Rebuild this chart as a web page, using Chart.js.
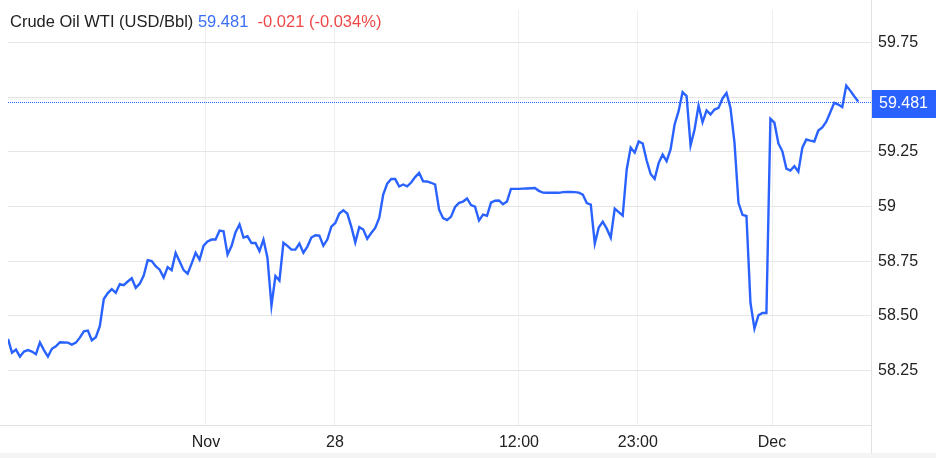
<!DOCTYPE html>
<html><head><meta charset="utf-8">
<script src="https://cdn.jsdelivr.net/npm/chart.js@4"></script>
<style>
html,body{margin:0;padding:0;background:#fff;}
#wrap{position:relative;width:936px;height:458px;overflow:hidden;}
#title{position:absolute;left:10px;top:12px;font:16.5px "Liberation Sans",Arial,sans-serif;color:#222;white-space:pre;z-index:2;}
#title .p{color:#3b6ef5;}
#title .c{color:#f04848;}
#strip{position:absolute;left:0;right:0;bottom:0;height:5px;background:#f4f4f4;}
</style></head><body>
<div id="wrap">
<canvas id="c" width="936" height="458"></canvas>
<div id="title">Crude Oil WTI (USD/Bbl) <span class="p">59.481</span>  <span class="c">-0.021 (-0.034%)</span></div>
<div id="strip"></div>
</div>
<script>
const prices = [
58.394,58.331,58.345,58.313,58.336,58.343,58.336,58.324,58.378,58.343,
58.313,58.349,58.360,58.379,58.378,58.377,58.368,58.377,58.400,58.429,
58.432,58.388,58.402,58.452,58.577,58.604,58.622,58.605,58.645,58.640,
58.657,58.672,58.628,58.647,58.684,58.755,58.751,58.727,58.711,58.675,
58.723,58.709,58.788,58.749,58.709,58.693,58.739,58.788,58.757,58.821,
58.840,58.849,58.849,58.890,58.887,58.780,58.819,58.883,58.918,58.858,
58.864,58.833,58.833,58.796,58.849,58.766,58.546,58.682,58.661,58.834,
58.820,58.803,58.803,58.831,58.789,58.817,58.858,58.869,58.867,58.821,
58.849,58.908,58.925,58.968,58.983,58.968,58.908,58.836,58.906,58.895,
58.853,58.879,58.902,58.948,59.055,59.105,59.126,59.126,59.092,59.101,
59.093,59.110,59.135,59.154,59.116,59.115,59.109,59.101,58.986,58.947,
58.938,58.954,58.998,59.017,59.023,59.037,59.007,59.000,58.936,58.963,
58.958,59.018,59.027,59.028,59.011,59.023,59.081,59.081,59.081,59.082,
59.083,59.084,59.085,59.072,59.064,59.063,59.063,59.063,59.063,59.066,
59.067,59.067,59.066,59.064,59.055,59.016,59.009,58.831,58.904,58.931,
58.899,58.858,58.991,58.975,58.959,59.170,59.270,59.247,59.298,59.289,
59.211,59.149,59.127,59.199,59.238,59.208,59.263,59.376,59.437,59.524,
59.506,59.280,59.353,59.463,59.386,59.440,59.422,59.444,59.452,59.495,
59.520,59.451,59.293,59.017,58.962,58.957,58.560,58.441,58.502,58.513,
58.513,59.402,59.384,59.289,59.253,59.174,59.165,59.185,59.160,59.270,
59.307,59.302,59.298,59.348,59.362,59.389,59.432,59.475,59.467,59.456,
59.554,59.531,59.505,59.481
];
const tickPositions = [49.6, 81.9, 128.0, 157.8, 191.4];
const tickLabels = ['Nov', '28', '12:00', '23:00', 'Dec'];
const yTicks = [58, 58.25, 58.5, 58.75, 59, 59.25, 59.5, 59.75];
const lastPrice = 59.481;

const FONT = '"Liberation Sans", Arial, sans-serif';
const BLUE = '#2962ff';

const overlay = {
  id: 'overlay',
  beforeDatasetsDraw(chart) {
    const {ctx, chartArea: a, scales: {y}} = chart;
    const py = Math.round(y.getPixelForValue(lastPrice)) + 0.5;
    ctx.save();
    ctx.strokeStyle = BLUE;
    ctx.lineWidth = 1;
    ctx.setLineDash([1, 1]);
    ctx.beginPath();
    ctx.moveTo(a.left, py);
    ctx.lineTo(a.right, py);
    ctx.stroke();
    ctx.restore();
  },
  afterDraw(chart) {
    const {ctx, chartArea: a, scales: {y}, width, height} = chart;
    ctx.save();
    ctx.strokeStyle = '#e2e2e2';
    ctx.lineWidth = 1;
    ctx.beginPath();
    ctx.moveTo(Math.round(a.right) + 0.5, 0);
    ctx.lineTo(Math.round(a.right) + 0.5, height);
    ctx.moveTo(0, Math.round(a.bottom) + 0.5);
    ctx.lineTo(a.right, Math.round(a.bottom) + 0.5);
    ctx.stroke();
    const py = y.getPixelForValue(lastPrice);
    ctx.fillStyle = BLUE;
    ctx.fillRect(Math.round(a.right) + 1, Math.round(py) - 12, width - a.right, 28);
    ctx.fillStyle = '#ffffff';
    ctx.font = '16px ' + FONT;
    ctx.textBaseline = 'middle';
    ctx.textAlign = 'left';
    ctx.fillText(lastPrice.toFixed(3), a.right + 8, Math.round(py) + 2);
    ctx.restore();
  }
};

new Chart(document.getElementById('c'), {
  type: 'line',
  data: {
    datasets: [{
      data: prices.map((p, i) => ({x: i, y: p})),
      borderColor: BLUE,
      borderWidth: 2.4,
      pointRadius: 0,
      tension: 0,
      fill: false
    }]
  },
  options: {
    responsive: false,
    animation: false,
    layout: {padding: {left: 8, top: 10, right: 0, bottom: 0}},
    plugins: {legend: {display: false}, tooltip: {enabled: false}},
    scales: {
      x: {
        type: 'linear',
        min: 0,
        max: 216.2,
        afterFit(s) { s.height = 33; s.paddingLeft = 0; s.paddingRight = 0; },
        afterBuildTicks(s) { s.ticks = tickPositions.map(v => ({value: v})); },
        grid: {color: '#efefef', drawTicks: false},
        border: {display: false},
        ticks: {
          padding: 8,
          color: '#222',
          font: {family: FONT, size: 16},
          maxRotation: 0,
          autoSkip: false,
          callback(v) { const k = tickPositions.indexOf(v); return k >= 0 ? tickLabels[k] : ''; }
        }
      },
      y: {
        position: 'right',
        min: 58,
        max: 59.9,
        afterFit(s) { s.width = 65; s.paddingTop = 0; s.paddingBottom = 0; },
        afterBuildTicks(s) { s.ticks = yTicks.map(v => ({value: v})); },
        grid: {color: '#e6e6e6', drawTicks: false},
        border: {display: false},
        ticks: {
          padding: 7,
          color: '#222',
          font: {family: FONT, size: 16},
          callback(v) {
            if (v === 58) return '';
            return Number.isInteger(v) ? String(v) : v.toFixed(2);
          }
        }
      }
    }
  },
  plugins: [overlay]
});
</script>
</body></html>
